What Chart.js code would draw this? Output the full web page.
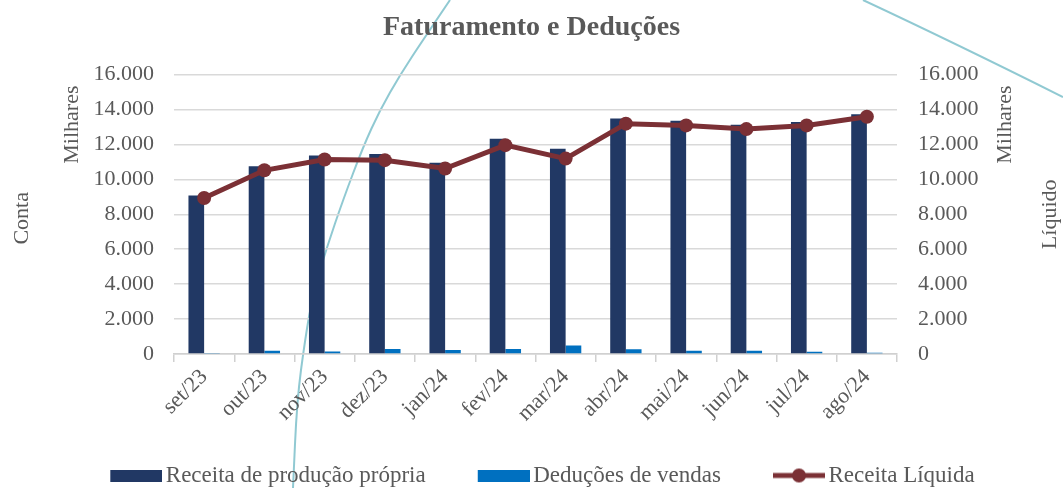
<!DOCTYPE html>
<html lang="pt-BR">
<head>
<meta charset="UTF-8">
<title>Faturamento e Deduções</title>
<script src="https://cdn.jsdelivr.net/npm/chart.js@4.4.1/dist/chart.umd.min.js"></script>
<style>
  html, body { margin: 0; padding: 0; background: #fff; }
  .wrap { position: relative; width: 1063px; height: 488px; }
</style>
</head>
<body>
<div class="wrap"><canvas id="grafico"></canvas></div>
<script>
  // dados (em milhares)
  var meses = ["set/23", "out/23", "nov/23", "dez/23", "jan/24", "fev/24", "mar/24", "abr/24", "mai/24", "jun/24", "jul/24", "ago/24"];
  var receitaPropria = [9080, 10750, 11370, 11460, 10950, 12330, 11750, 13480, 13360, 13130, 13280, 13730];
  var deducoes = [60, 190, 150, 290, 230, 290, 480, 265, 190, 190, 130, 75];
  var receitaLiquida = [8930, 10520, 11140, 11100, 10620, 11960, 11190, 13190, 13090, 12880, 13090, 13590];
  var ticksY = [0, 2000, 4000, 6000, 8000, 10000, 12000, 14000, 16000];

  var cinza = "#595959";
  var fonte = "'Liberation Serif', 'DejaVu Serif', serif";

  function milhar(v) {
    return String(v).replace(/\B(?=(\d{3})+(?!\d))/g, ".");
  }

  // símbolos da legenda: 82px de largura, desenho encostado à direita
  function caixa(cor) {
    var c = document.createElement("canvas");
    c.width = 82; c.height = 12;
    var g = c.getContext("2d");
    g.fillStyle = cor;
    g.fillRect(30, 0, 52, 12);
    return c;
  }
  function linhaPonto(cor) {
    var c = document.createElement("canvas");
    c.width = 82; c.height = 16;
    var g = c.getContext("2d");
    g.strokeStyle = cor; g.lineWidth = 5;
    g.beginPath(); g.moveTo(30, 8); g.lineTo(82, 8); g.stroke();
    g.fillStyle = cor;
    g.beginPath(); g.arc(56, 8, 7, 0, Math.PI * 2); g.fill();
    return c;
  }

  // curvas decorativas do fundo do slide
  var curva1 = [[450, 0], [423, 40], [400, 75], [380, 110], [363, 147], [343, 200], [327, 247], [313, 293], [305, 340], [297, 400], [293, 488]];
  var fundo = {
    id: "fundo",
    beforeDraw: function (chart) {
      var ctx = chart.ctx;
      ctx.save();
      ctx.strokeStyle = "rgba(125, 192, 202, 0.85)";
      ctx.lineWidth = 2;
      ctx.beginPath();
      ctx.moveTo(curva1[0][0], curva1[0][1]);
      for (var i = 1; i < curva1.length - 1; i++) {
        var mx = (curva1[i][0] + curva1[i + 1][0]) / 2;
        var my = (curva1[i][1] + curva1[i + 1][1]) / 2;
        ctx.quadraticCurveTo(curva1[i][0], curva1[i][1], mx, my);
      }
      var ult = curva1[curva1.length - 1];
      ctx.lineTo(ult[0], ult[1]);
      ctx.stroke();
      ctx.beginPath();
      ctx.moveTo(863, 0);
      ctx.quadraticCurveTo(955, 43, 1063, 97);
      ctx.stroke();
      ctx.restore();
    }
  };

  // títulos dos eixos (duas linhas de cada lado)
  var titulosEixos = {
    id: "titulosEixos",
    afterDraw: function (chart) {
      var ctx = chart.ctx, a = chart.chartArea;
      var meio = (a.top + a.bottom) / 2;
      function vertical(txt, x, y) {
        ctx.save();
        ctx.translate(x, y);
        ctx.rotate(-Math.PI / 2);
        ctx.textAlign = "center";
        ctx.textBaseline = "middle";
        ctx.fillText(txt, 0, 0);
        ctx.restore();
      }
      ctx.save();
      ctx.fillStyle = cinza;
      ctx.font = "22px " + fonte;
      vertical("Milhares", 72, a.top + 50);
      vertical("Conta", 22, meio + 4);
      vertical("Milhares", 1005, a.top + 50);
      vertical("Líquido", 1050, meio);
      ctx.restore();
    }
  };

  var ctx = document.getElementById("grafico").getContext("2d");
  var grafico = new Chart(ctx, {
    data: {
      labels: meses,
      datasets: [
        {
          type: "line",
          label: "Receita Líquida",
          data: receitaLiquida,
          yAxisID: "y1",
          borderColor: "#7B3035",
          backgroundColor: "#7B3035",
          borderWidth: 5,
          pointRadius: 7,
          pointHoverRadius: 7,
          pointBackgroundColor: "#7B3035",
          pointBorderWidth: 0,
          tension: 0,
          order: 0
        },
        {
          type: "bar",
          label: "Receita de produção própria",
          data: receitaPropria,
          yAxisID: "y",
          backgroundColor: "#213864",
          categoryPercentage: 0.52,
          barPercentage: 1,
          order: 1
        },
        {
          type: "bar",
          label: "Deduções de vendas",
          data: deducoes,
          yAxisID: "y",
          backgroundColor: "#0070C0",
          categoryPercentage: 0.52,
          barPercentage: 1,
          order: 1
        }
      ]
    },
    options: {
      responsive: true,
      maintainAspectRatio: false,
      animation: false,
      layout: { padding: { left: 0, right: 0, top: 0, bottom: 0 } },
      plugins: {
        title: {
          display: true,
          text: "Faturamento e Deduções",
          color: cinza,
          font: { family: fonte, size: 28, weight: "bold" },
          padding: { top: 11, bottom: 30 }
        },
        legend: {
          position: "bottom",
          maxHeight: 54,
          labels: {
            color: cinza,
            font: { family: fonte, size: 23 },
            usePointStyle: true,
            pointStyleWidth: 66,
            padding: 30,
            generateLabels: function (chart) {
              var ordem = [1, 2, 0];
              return ordem.map(function (i) {
                var ds = chart.data.datasets[i];
                return {
                  text: ds.label,
                  fontColor: cinza,
                  pointStyle: ds.type === "line" ? linhaPonto(ds.borderColor) : caixa(ds.backgroundColor),
                  datasetIndex: i,
                  hidden: false,
                  lineWidth: 0
                };
              });
            }
          }
        },
        tooltip: { enabled: false }
      },
      scales: {
        x: {
          offset: true,
          grid: { offset: true, drawOnChartArea: false, color: "#d0d0d0", tickLength: 8, lineWidth: 1.5 },
          border: { color: "#d0d0d0", width: 1.5 },
          ticks: {
            color: cinza,
            font: { family: fonte, size: 22 },
            minRotation: 45,
            maxRotation: 45,
            padding: 2
          },
          afterFit: function (s) { s.height = 80; }
        },
        y: {
          position: "left",
          min: 0,
          max: 16000,
          afterBuildTicks: function (s) { s.ticks = ticksY.map(function (v) { return { value: v }; }); },
          grid: { color: "#d9d9d9", lineWidth: 1.5, drawTicks: false },
          border: { display: false },
          ticks: {
            color: cinza,
            font: { family: fonte, size: 22 },
            padding: 20,
            callback: function (v) { return milhar(v); }
          },
          afterFit: function (s) { s.width = 174; }
        },
        y1: {
          position: "right",
          min: 0,
          max: 16000,
          afterBuildTicks: function (s) { s.ticks = ticksY.map(function (v) { return { value: v }; }); },
          grid: { drawOnChartArea: false, drawTicks: false },
          border: { display: false },
          ticks: {
            color: cinza,
            font: { family: fonte, size: 22 },
            padding: 21,
            callback: function (v) { return milhar(v); }
          },
          afterFit: function (s) { s.width = 166; }
        }
      }
    },
    plugins: [fundo, titulosEixos]
  });
</script>
</body>
</html>
